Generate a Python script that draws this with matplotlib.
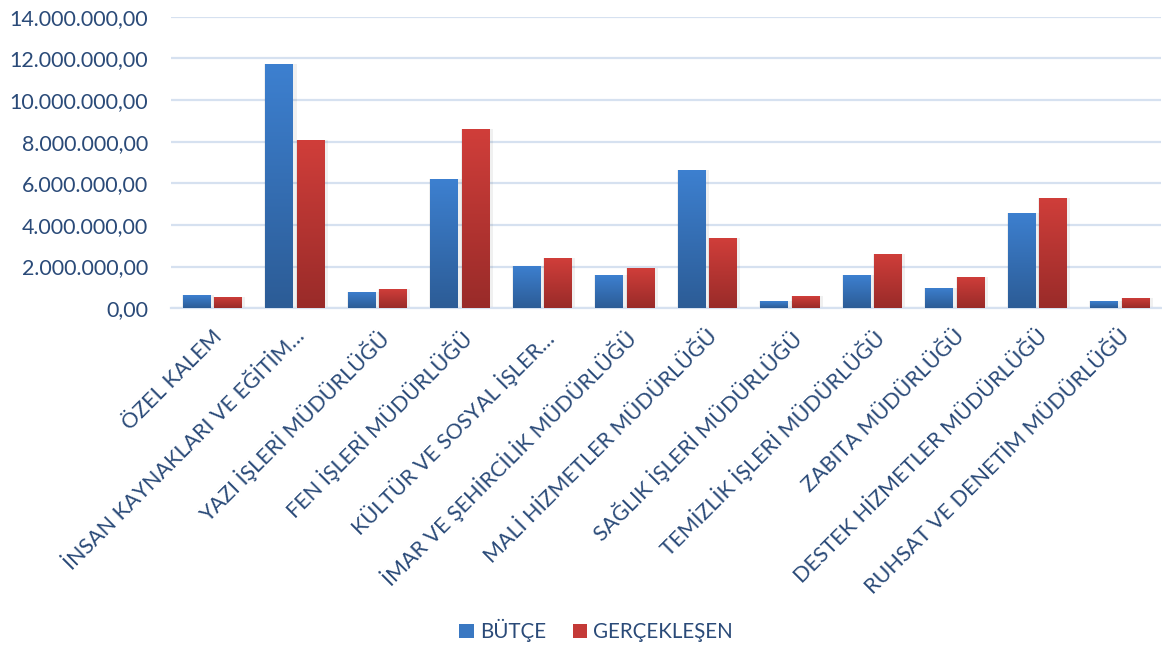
import matplotlib
matplotlib.use("Agg")
import matplotlib.pyplot as plt
import numpy as np
from matplotlib.colors import LinearSegmentedColormap
from matplotlib.ticker import FuncFormatter
from matplotlib.patches import Patch

categories = ["ÖZEL KALEM", "İNSAN KAYNAKLARI VE EĞİTİM…", "YAZI İŞLERİ MÜDÜRLÜĞÜ",
              "FEN İŞLERİ MÜDÜRLÜĞÜ", "KÜLTÜR VE SOSYAL İŞLER…", "İMAR VE ŞEHİRCİLİK MÜDÜRLÜĞÜ",
              "MALİ HİZMETLER MÜDÜRLÜĞÜ", "SAĞLIK İŞLERİ MÜDÜRLÜĞÜ", "TEMİZLİK İŞLERİ MÜDÜRLÜĞÜ",
              "ZABITA MÜDÜRLÜĞÜ", "DESTEK HİZMETLER MÜDÜRLÜĞÜ", "RUHSAT VE DENETİM MÜDÜRLÜĞÜ"]
butce = [620000, 11710000, 770000, 6190000, 2020000, 1570000,
         6660000, 320000, 1570000, 990000, 4590000, 320000]
gerceklesen = [530000, 8070000, 910000, 8590000, 2400000, 1910000,
               3350000, 560000, 2620000, 1520000, 5310000, 510000]
series_names = ["BÜTÇE", "GERÇEKLEŞEN"]

FONT = "Lato"
TXT = "#2A4A78"
plt.rcParams['font.family'] = [FONT, 'DejaVu Sans']

fig = plt.figure(figsize=(11.62, 6.46), dpi=100)
ax = fig.add_axes([0.147, 0.523, 0.852, 0.451])

x = np.arange(len(categories))
w = 0.33
off = 0.19
blue_cmap = LinearSegmentedColormap.from_list("b", ["#2C5C96", "#3D80D0"])
red_cmap = LinearSegmentedColormap.from_list("r", ["#992B29", "#D03E3A"])
grad = np.linspace(0, 1, 256).reshape(-1, 1)

for vals, sign, cmap in [(butce, -1, blue_cmap), (gerceklesen, 1, red_cmap)]:
    ax.bar(x + sign * off + 0.02, vals, w + 0.06, bottom=0, color="#000000", alpha=0.06,
           zorder=2, linewidth=0)
    bars = ax.bar(x + sign * off, vals, w, color="none", zorder=3, linewidth=0)
    for b in bars:
        bx, by = b.get_x(), b.get_y()
        bw, bh = b.get_width(), b.get_height()
        im = ax.imshow(grad, cmap=cmap, origin="lower", aspect="auto",
                       extent=[bx, bx + bw, by, by + bh], zorder=3)
        im.set_clip_path(b)

ax.set_xlim(-0.5, len(categories) - 0.5)
ax.set_ylim(0, 14000000)
ax.set_yticks(np.arange(0, 14000001, 2000000))

def fmt(v, pos):
    s = f"{v:,.2f}"
    return s.replace(",", "X").replace(".", ",").replace("X", ".")
ax.yaxis.set_major_formatter(FuncFormatter(fmt))

ax.grid(axis="y", color="#D6E1F0", linewidth=1.6, zorder=0)
ax.set_axisbelow(True)
for s in ["top", "right", "left"]:
    ax.spines[s].set_visible(False)
ax.spines["bottom"].set_color("#D6E1F0")
ax.spines["bottom"].set_linewidth(1.6)

ax.tick_params(axis="y", length=0, pad=16.5, labelsize=15.4, labelcolor=TXT)
ax.tick_params(axis="x", length=0, pad=13, labelsize=15.5, labelcolor=TXT)
ax.set_xticks(x)
ax.set_xticklabels(categories, rotation=45, ha="right", rotation_mode="anchor")

handles = [Patch(facecolor="#3A78C2", edgecolor="none"), Patch(facecolor="#C43A37", edgecolor="none")]
fig.legend(handles, series_names, loc="center", bbox_to_anchor=(0.513, 0.024), ncol=2,
           frameon=False, fontsize=14.8, labelcolor=TXT, handlelength=0.7, handleheight=0.7,
           handletextpad=0.3, columnspacing=1.3)

fig.savefig("out.png", dpi=100)
